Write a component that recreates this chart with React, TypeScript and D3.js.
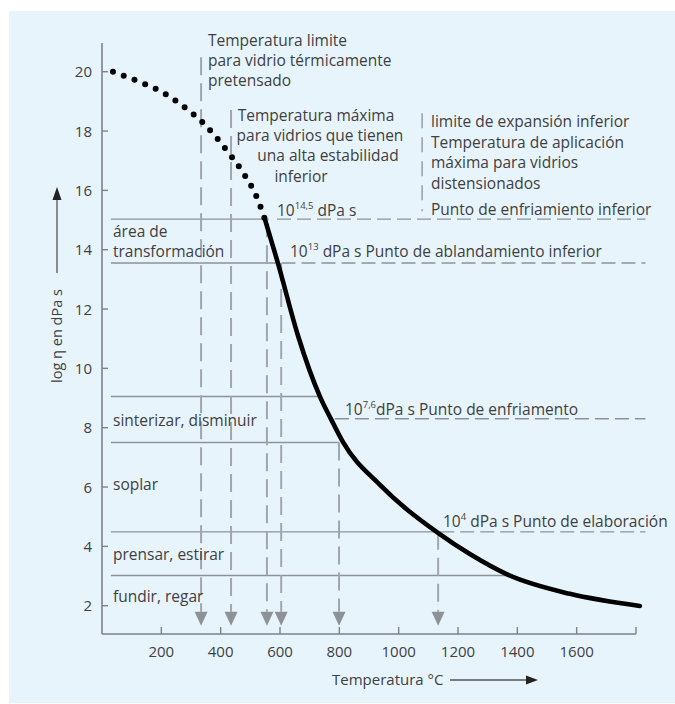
import React from "react";
import * as d3 from "d3";

// ---- data ----
const xTicks = [200, 400, 600, 800, 1000, 1200, 1400, 1600];
const yTicks = [2, 4, 6, 8, 10, 12, 14, 16, 18, 20];

// viscosity curve (temperature °C, log eta)
const dottedT = [37, 128, 202, 273, 341, 425, 476, 523, 549];
const dottedV = [20.0, 19.65, 19.32, 18.84, 18.27, 17.29, 16.59, 15.74, 15.03];
const solidT = [549, 593, 661, 735, 772, 812, 937, 1129, 1240, 1369, 1577, 1813];
const solidV = [15.03, 13.55, 11.09, 9.04, 8.29, 7.52, 6.07, 4.48, 3.74, 3.04, 2.4, 1.99];

// horizontal reference levels
const levelV = [15.03, 13.55, 9.05, 8.3, 7.5, 4.49, 3.02];
const levelSolidFromT = [30, 30, 30, -1, 30, 30, 30];
const levelSolidToT = [562, 590, 735, -1, 799, 1133, 1372];
const levelDashFromT = [590, 605, -1, 785, -1, 1140, -1];
const levelDashToT = [1832, 1832, -1, 1832, -1, 1832, -1];

// vertical markers with arrows
const markT = [334, 435, 556, 604, 799, 1133];
const markTopV = [20.49, 18.71, 15.03, 13.55, 7.5, 4.49];

// separator near right annotation block
const sepT = 1079;
const sepV = [18.6, 15.3];

// texts
const leftRegionLabels = ["sinterizar, disminuir", "soplar", "prensar, estirar", "fundir, regar"];
const blockA = ["Temperatura limite", "para vidrio térmicamente", "pretensado"];
const blockB = ["Temperatura máxima", "para vidrios que tienen", "una alta estabilidad", "inferior"];
const blockC = ["limite de expansión inferior", "Temperatura de aplicación", "máxima para vidrios", "distensionados", "Punto de enfriamiento inferior"];
const transLabel = ["área de", "transformación"];
const levelExp = ["14,5", "13", "7,6", "4"];
const levelRest = [" dPa s", " dPa s Punto de ablandamiento inferior", "dPa s Punto de enfriamento", " dPa s Punto de elaboración"];

const W = 675;
const H = 704;
const FONT = "'Open Sans', sans-serif";
const TXT = "#3f3f3f";
const LINE = "#8c9298";
const VLINE = "#a0a6ac";

export default function App() {
  const x = d3.scaleLinear().domain([0, 1800]).range([102, 636]);
  const y = d3.scaleLinear().domain([2, 20]).range([605.7, 71.7]);
  const line = d3
    .line<[number, number]>()
    .x((d) => x(d[0]))
    .y((d) => y(d[1]))
    .curve(d3.curveMonotoneX);
  const dotted = line(dottedT.map((t, i) => [t, dottedV[i]]) as [number, number][]) || "";
  const solid = line(solidT.map((t, i) => [t, solidV[i]]) as [number, number][]) || "";

  const axisY0 = y(20.97);
  const axisY1 = y(1.045);
  const arrowBase = y(1.8);
  const arrowTip = y(1.32);

  const fs = 15.5;

  // positions of annotation baselines
  const blockAY = [46, 66, 86];
  const blockBX = [316, 320, 328, 301];
  const blockBY = [121, 141, 161, 182];
  const blockCY = [127, 148, 168, 189, 215];
  const leftY = [426, 490, 560, 602];
  const levelLabelX = [277, 290, 345, 443];
  const levelLabelY = [216, 257, 415, 527];

  return (
    <div style={{ position: "absolute", left: 0, top: 0 }}>
      <svg width={W} height={H} style={{ display: "block" }} fontFamily={FONT}>
        <rect x={0} y={0} width={W} height={H} fill="#ffffff" />
        <rect x={9} y={11} width={W - 9} height={H - 12} fill="#e8f4fc" />

        {/* horizontal levels */}
        {levelV.map((v, i) => (
          <g key={"lv" + i}>
            {levelSolidToT[i] > 0 && (
              <line x1={x(levelSolidFromT[i])} x2={x(levelSolidToT[i])} y1={y(v)} y2={y(v)} stroke={LINE} strokeWidth={1.4} />
            )}
            {levelDashFromT[i] > 0 && (
              <line x1={x(levelDashFromT[i])} x2={x(levelDashToT[i])} y1={y(v)} y2={y(v)} stroke={LINE} strokeWidth={1.4} strokeDasharray="14 6" />
            )}
          </g>
        ))}

        {/* vertical markers */}
        {markT.map((t, i) => (
          <g key={"mk" + i}>
            <line x1={x(t)} x2={x(t)} y1={y(markTopV[i])} y2={arrowBase} stroke={VLINE} strokeWidth={2} strokeDasharray="18 8" />
            <path d={`M${x(t) - 6.5},${arrowBase} L${x(t) + 6.5},${arrowBase} L${x(t)},${arrowTip} Z`} fill={LINE} />
          </g>
        ))}
        <line x1={x(sepT)} x2={x(sepT)} y1={y(sepV[0])} y2={y(sepV[1])} stroke={LINE} strokeWidth={1.3} strokeDasharray="15 9" />

        {/* axes */}
        <line x1={x(0)} x2={x(0)} y1={axisY0} y2={axisY1} stroke="#7d8288" strokeWidth={1.6} />
        <line x1={x(0)} x2={x(1800)} y1={axisY1} y2={axisY1} stroke="#7d8288" strokeWidth={1.6} />
        {xTicks.concat([1800]).map((t) => (
          <line key={"xt" + t} x1={x(t)} x2={x(t)} y1={axisY1} y2={axisY1 - 7} stroke="#7d8288" strokeWidth={1.4} />
        ))}
        {xTicks.map((t) => (
          <text key={"xl" + t} x={x(t)} y={657} textAnchor="middle" fontSize={15} fill={TXT}>
            {t}
          </text>
        ))}
        {yTicks.map((v) => (
          <g key={"yt" + v}>
            <line x1={x(0)} x2={x(0) + 6} y1={y(v)} y2={y(v)} stroke="#7d8288" strokeWidth={1.4} />
            <text x={92} y={y(v) + 5.5} textAnchor="end" fontSize={15} fill={TXT}>
              {v}
            </text>
          </g>
        ))}

        {/* curve */}
        <path d={dotted} fill="none" stroke="#000" strokeWidth={6} strokeLinecap="round" strokeDasharray="0 11.5" />
        <path d={solid} fill="none" stroke="#000" strokeWidth={4.6} strokeLinecap="round" />

        {/* annotation blocks */}
        {blockA.map((s, i) => (
          <text key={"a" + i} x={208} y={blockAY[i]} fontSize={fs} fill={TXT}>
            {s}
          </text>
        ))}
        {blockB.map((s, i) => (
          <text key={"b" + i} x={blockBX[i]} y={blockBY[i]} fontSize={fs} fill={TXT} textAnchor="middle">
            {s}
          </text>
        ))}
        {blockC.map((s, i) => (
          <text key={"c" + i} x={431} y={blockCY[i]} fontSize={fs} fill={TXT}>
            {s}
          </text>
        ))}
        {transLabel.map((s, i) => (
          <text key={"tr" + i} x={113} y={[237, 257][i]} fontSize={fs} fill={TXT}>
            {s}
          </text>
        ))}
        {leftRegionLabels.map((s, i) => (
          <text key={"l" + i} x={113} y={leftY[i]} fontSize={fs} fill={TXT}>
            {s}
          </text>
        ))}
        {levelExp.map((e, i) => (
          <text key={"le" + i} x={levelLabelX[i]} y={levelLabelY[i]} fontSize={fs} fill={TXT}>
            10
            <tspan fontSize={9.5} dy={-7}>
              {e}
            </tspan>
            <tspan dy={7}>{levelRest[i]}</tspan>
          </text>
        ))}

        {/* axis titles */}
        <text transform="translate(62,336) rotate(-90)" textAnchor="middle" fontSize={14.5} fill={TXT}>
          log η en dPa s
        </text>
        <line x1={57} x2={57} y1={273} y2={198} stroke="#555" strokeWidth={1.3} />
        <path d="M57,187 L52.5,200 L61.5,200 Z" fill="#222" />

        <text x={332} y={685} fontSize={15} fill={TXT}>
          Temperatura °C
        </text>
        <line x1={450} x2={529} y1={680} y2={680} stroke="#555" strokeWidth={1.3} />
        <path d="M538,680 L526,675.5 L526,684.5 Z" fill="#222" />
      </svg>
    </div>
  );
}
